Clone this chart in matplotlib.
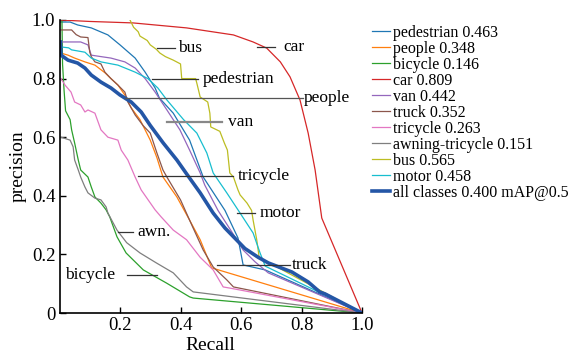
import matplotlib
matplotlib.use("Agg")
import matplotlib.pyplot as plt

plt.rcParams["font.family"] = ["Liberation Serif", "DejaVu Serif"]

# class names and AP values for the legend
classes = ["pedestrian", "people", "bicycle", "car", "van", "truck",
           "tricycle", "awning-tricycle", "bus", "motor"]
ap_values = [0.463, 0.348, 0.146, 0.809, 0.442, 0.352, 0.263, 0.151, 0.565, 0.458]
map_all = 0.400
colors = ["#1f77b4", "#ff7f0e", "#2ca02c", "#d62728", "#9467bd", "#8c564b",
          "#e377c2", "#7f7f7f", "#bcbd22", "#17becf"]

# precision-recall curves
pedestrian_r = [0.0, 0.035, 0.06, 0.105, 0.16, 0.2, 0.25, 0.283, 0.316, 0.33, 0.376, 0.43, 0.475,
                0.547, 0.59, 0.607, 0.68, 1.0]
pedestrian_p = [0.993, 0.993, 0.983, 0.973, 0.949, 0.915, 0.87, 0.822, 0.768, 0.734, 0.682, 0.59, 0.464,
                0.35, 0.256, 0.164, 0.147, 0.0]

people_r = [0.005, 0.028, 0.05, 0.084, 0.117, 0.15, 0.17, 0.193, 0.216, 0.237, 0.266, 0.3, 0.322, 0.342,
            0.388, 0.43, 0.465, 0.503, 1.0]
people_p = [0.887, 0.88, 0.87, 0.857, 0.846, 0.82, 0.80, 0.778, 0.744, 0.70, 0.66, 0.59, 0.53, 0.464,
            0.396, 0.317, 0.25, 0.154, 0.0]

bicycle_r = [0.008, 0.01, 0.015, 0.02, 0.035, 0.04, 0.05, 0.062, 0.07, 0.094, 0.105, 0.117, 0.137, 0.154,
             0.166, 0.19, 0.22, 0.277, 0.354, 0.43, 0.442, 1.0]
bicycle_p = [1.0, 0.85, 0.76, 0.69, 0.66, 0.625, 0.58, 0.522, 0.488, 0.464, 0.43, 0.396, 0.375, 0.352,
             0.328, 0.26, 0.205, 0.147, 0.102, 0.055, 0.051, 0.0]

car_r = [0.0, 0.1, 0.243, 0.42, 0.575, 0.64, 0.685, 0.73, 0.762, 0.795, 0.822, 0.845, 0.867, 1.0]
car_p = [1.0, 0.995, 0.99, 0.973, 0.949, 0.925, 0.904, 0.857, 0.806, 0.727, 0.614, 0.488, 0.324, 0.0]

van_r = [0.005, 0.07, 0.094, 0.105, 0.137, 0.17, 0.216, 0.25, 0.283, 0.316, 0.355, 0.398, 0.43, 0.465,
         0.48, 0.524, 0.57, 0.607, 0.646, 0.69, 1.0]
van_p = [0.925, 0.925, 0.915, 0.88, 0.875, 0.87, 0.857, 0.836, 0.80, 0.754, 0.693, 0.625, 0.556, 0.478,
         0.437, 0.35, 0.276, 0.215, 0.175, 0.137, 0.0]

truck_r = [0.005, 0.04, 0.055, 0.07, 0.094, 0.1, 0.105, 0.117, 0.137, 0.15, 0.17, 0.193, 0.216, 0.226,
           0.237, 0.25, 0.276, 0.3, 0.322, 0.342, 0.355, 0.4, 0.44, 0.475, 0.508, 0.553, 0.575, 1.0]
truck_p = [0.966, 0.966, 0.95, 0.942, 0.94, 0.89, 0.875, 0.857, 0.85, 0.822, 0.80, 0.778, 0.754, 0.72,
           0.70, 0.676, 0.64, 0.614, 0.546, 0.488, 0.464, 0.386, 0.294, 0.215, 0.157, 0.113, 0.089, 0.0]

tricycle_r = [0.005, 0.018, 0.038, 0.05, 0.07, 0.084, 0.094, 0.117, 0.137, 0.16, 0.193, 0.204, 0.226, 0.25,
              0.27, 0.293, 0.316, 0.336, 0.376, 0.42, 0.465, 0.508, 0.541, 0.563, 1.0]
tricycle_p = [0.80, 0.778, 0.754, 0.72, 0.71, 0.686, 0.693, 0.682, 0.625, 0.6, 0.59, 0.556, 0.522, 0.464,
              0.42, 0.386, 0.352, 0.328, 0.283, 0.25, 0.19, 0.147, 0.089, 0.085, 0.0]

awning_r = [0.005, 0.035, 0.045, 0.05, 0.062, 0.07, 0.084, 0.094, 0.117, 0.137, 0.154, 0.16, 0.19, 0.222,
            0.266, 0.32, 0.376, 0.42, 0.442, 1.0]
awning_p = [0.60, 0.59, 0.567, 0.522, 0.488, 0.464, 0.43, 0.41, 0.392, 0.386, 0.362, 0.341, 0.283, 0.24,
            0.205, 0.171, 0.137, 0.089, 0.072, 0.0]

bus_r = [0.233, 0.245, 0.26, 0.266, 0.29, 0.30, 0.32, 0.332, 0.35, 0.376, 0.40, 0.404, 0.45, 0.455, 0.465, 0.49,
         0.497, 0.50, 0.53, 0.545, 0.555, 0.563, 0.575, 0.59, 0.597, 0.62, 0.635, 0.64, 0.652, 0.66, 1.0]
bus_p = [1.0, 0.975, 0.96, 0.945, 0.93, 0.915, 0.9, 0.887, 0.875, 0.863, 0.85, 0.80, 0.80, 0.78, 0.737, 0.72,
         0.682, 0.635, 0.62, 0.58, 0.556, 0.478, 0.464, 0.42, 0.403, 0.375, 0.35, 0.317, 0.25, 0.19, 0.0]

motor_r = [0.005, 0.03, 0.04, 0.084, 0.105, 0.137, 0.193, 0.25, 0.292, 0.325, 0.355, 0.41, 0.454, 0.487,
           0.508, 0.553, 0.597, 0.64, 0.663, 0.68, 1.0]
motor_p = [0.908, 0.905, 0.898, 0.89, 0.87, 0.857, 0.846, 0.822, 0.80, 0.768, 0.727, 0.66, 0.614, 0.546,
           0.478, 0.41, 0.341, 0.273, 0.205, 0.16, 0.0]

all_r = [0.003, 0.005, 0.028, 0.06, 0.084, 0.105, 0.137, 0.17, 0.2, 0.237, 0.27, 0.3, 0.343, 0.388, 0.42,
         0.465, 0.508, 0.547, 0.613, 0.657, 0.69, 0.768, 0.822, 0.86, 0.878, 1.0]
all_p = [0.925, 0.88, 0.863, 0.853, 0.836, 0.812, 0.788, 0.768, 0.744, 0.72, 0.686, 0.64, 0.58, 0.522, 0.475,
         0.41, 0.341, 0.29, 0.22, 0.19, 0.171, 0.14, 0.106, 0.072, 0.065, 0.0]

curves_r = [pedestrian_r, people_r, bicycle_r, car_r, van_r, truck_r, tricycle_r, awning_r, bus_r, motor_r]
curves_p = [pedestrian_p, people_p, bicycle_p, car_p, van_p, truck_p, tricycle_p, awning_p, bus_p, motor_p]

fig = plt.figure(figsize=(5.87, 3.55), dpi=100)
ax = fig.add_axes([0.1014, 0.1183, 0.5153, 0.8254])

for name, ap, c, r, p in zip(classes, ap_values, colors, curves_r, curves_p):
    ax.plot(r, p, color=c, linewidth=0.9, label=f"{name} {ap:.3f}")
ax.plot(all_r, all_p, color="#2456a6", linewidth=2.6, label=f"all classes {map_all:.3f} mAP@0.5")

# leader lines with class names
def tag(text, x0, x1, y, tx, color="#333333", lw=0.9):
    ax.plot([x0, x1], [y, y], color=color, linewidth=lw, zorder=5)
    ax.text(tx, y, text, fontsize=12.5, va="center", ha="left", zorder=6)

tag("bus", 0.322, 0.382, 0.904, 0.392)
tag("car", 0.653, 0.712, 0.908, 0.739)
tag("pedestrian", 0.306, 0.458, 0.799, 0.475)
tag("people", 0.217, 0.806, 0.734, 0.806, color="#555555")
tag("van", 0.355, 0.537, 0.652, 0.558, color="#888888", lw=1.6)
tag("tricycle", 0.26, 0.575, 0.468, 0.59)
tag("motor", 0.587, 0.647, 0.341, 0.66)
tag("awn.", 0.193, 0.243, 0.276, 0.257)
tag("truck", 0.52, 0.762, 0.164, 0.769)
tag("bicycle", 0.223, 0.322, 0.13, 0.018)

ax.set_xlim(0, 1)
ax.set_ylim(0, 1)
ax.set_xticks([0.2, 0.4, 0.6, 0.8, 1.0])
ax.set_xticklabels(["0.2", "0.4", "0.6", "0.8", "1.0"])
ax.set_yticks([0, 0.2, 0.4, 0.6, 0.8, 1.0])
ax.set_yticklabels(["0", "0.2", "0.4", "0.6", "0.8", "1.0"])
ax.tick_params(direction="in", length=4, width=1, labelsize=13.5, pad=3)
for s in ["top", "right"]:
    ax.spines[s].set_visible(False)
for s in ["left", "bottom"]:
    ax.spines[s].set_linewidth(1.2)
ax.set_xlabel("Recall", fontsize=14, labelpad=2)
ax.set_ylabel("precision", fontsize=14, labelpad=4)

fig.legend(loc="upper left", bbox_to_anchor=(0.634, 0.93), bbox_transform=fig.transFigure,
           frameon=False, fontsize=11.5, borderpad=0, borderaxespad=0,
           handlelength=1.12, handletextpad=0.2, labelspacing=0.0)

fig.savefig("out.png", dpi=100)
